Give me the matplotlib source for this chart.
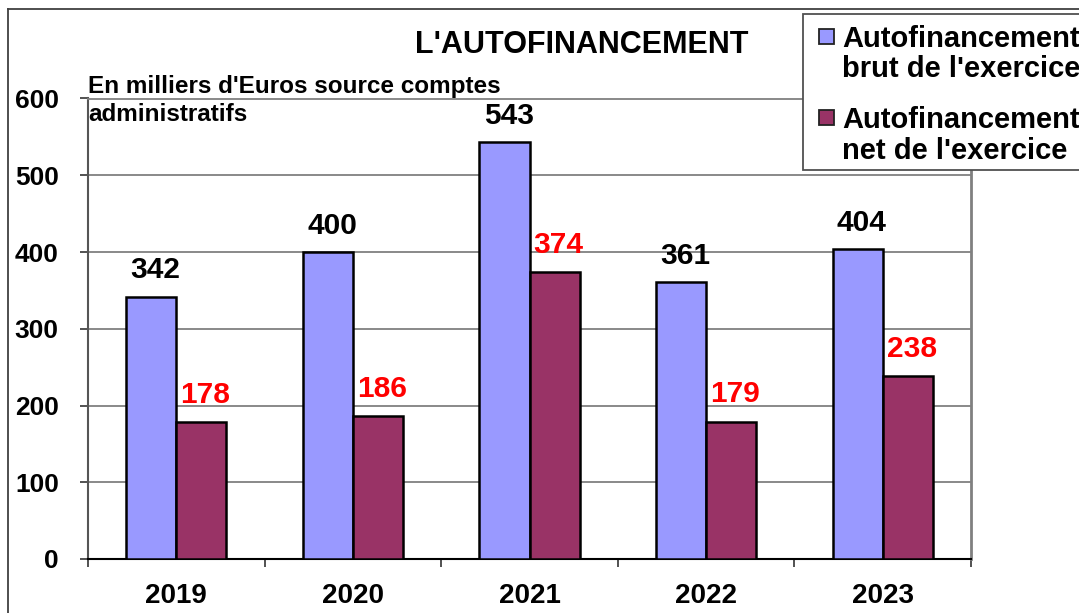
import numpy as np
import matplotlib

matplotlib.use("Agg")
import matplotlib.pyplot as plt
from matplotlib.patches import Rectangle
from matplotlib.lines import Line2D

plt.rcParams["font.family"] = ["Liberation Sans", "DejaVu Sans"]
plt.rcParams["font.weight"] = "bold"

years = ["2019", "2020", "2021", "2022", "2023"]
brut = [342, 400, 543, 361, 404]
net = [178, 186, 374, 179, 238]
series_names = ["Autofinancement\nbrut de l'exercice", "Autofinancement\nnet de l'exercice"]
y_ticks = [0, 100, 200, 300, 400, 500, 600]

BLUE = "#9999FF"
PLUM = "#993366"
GRID = "#808080"

W, H = 1079, 613
fig = plt.figure(figsize=(W / 100, H / 100), dpi=100)
ax = fig.add_axes([88 / W, 1 - 559 / H, (971 - 88) / W, (559 - 98.5) / H])

x = np.arange(len(years))
bw = 0.284
ax.bar(x - bw / 2, brut, bw, color=BLUE, edgecolor="black", linewidth=1.8, zorder=3)
ax.bar(x + bw / 2, net, bw, color=PLUM, edgecolor="black", linewidth=1.8, zorder=3)

for xi, v in zip(x, brut):
    ax.annotate(str(v), (xi - bw / 2, v), xytext=(3, 13), textcoords="offset points",
                ha="center", va="baseline", fontsize=21.5, fontweight="bold", color="black")
for xi, v in zip(x, net):
    ax.annotate(str(v), (xi + bw / 2, v), xytext=(3, 14), textcoords="offset points",
                ha="center", va="baseline", fontsize=21.5, fontweight="bold", color="#FF0000")

ax.set_xlim(-0.5, len(years) - 0.5)
ax.set_ylim(0, 600)
ax.set_yticks(y_ticks)
ax.set_yticklabels([str(t) for t in y_ticks])
ax.yaxis.grid(True, color=GRID, linewidth=1.3, zorder=0)
ax.set_axisbelow(True)

ax.set_xticks(x)
ax.set_xticklabels(years)
ax.set_xticks(np.arange(-0.5, len(years)), minor=True)
ax.tick_params(axis="x", which="major", length=0, pad=17, labelsize=20)
ax.tick_params(axis="x", which="minor", length=6, width=1.2, direction="out", color="#333333")
ax.tick_params(axis="y", length=6, width=1.2, direction="out", pad=15, labelsize=19,
               color="#333333")
for lab in ax.get_xticklabels() + ax.get_yticklabels():
    lab.set_fontweight("bold")

ax.spines["top"].set_color(GRID)
ax.spines["top"].set_linewidth(1.3)
ax.spines["right"].set_color(GRID)
ax.spines["right"].set_linewidth(2)
ax.spines["left"].set_color("#555555")
ax.spines["left"].set_linewidth(1.5)
ax.spines["bottom"].set_color("black")
ax.spines["bottom"].set_linewidth(1.5)

# title and units note
fig.text(582 / W, 1 - 45 / H, "L'AUTOFINANCEMENT", ha="center", va="center",
         fontsize=22, fontweight="bold")
fig.text(88 / W, 1 - 93 / H, "En milliers d'Euros source comptes", ha="left",
         va="baseline", fontsize=17.5, fontweight="bold")
fig.text(88 / W, 1 - 121 / H, "administratifs", ha="left", va="baseline",
         fontsize=17.5, fontweight="bold")

# outer frame (left and top edges only visible)
fig.add_artist(Line2D([7.5 / W, 7.5 / W], [0, 1 - 9 / H], color="#404040", lw=1.3))
fig.add_artist(Line2D([7.5 / W, 1], [1 - 9 / H, 1 - 9 / H], color="#404040", lw=1.3))

# legend box, running off the right edge as in the original
fig.add_artist(Rectangle((803 / W, 1 - 170 / H), 300 / W, 156 / H, transform=fig.transFigure,
                         facecolor="white", edgecolor="#505050", lw=1.3, zorder=5))
colors = [BLUE, PLUM]
marker_tops = [29, 110]
baselines = [(47, 77), (128, 159)]
for name, c, mt, bl in zip(series_names, colors, marker_tops, baselines):
    fig.add_artist(Rectangle((819 / W, 1 - (mt + 15) / H), 15 / W, 15 / H,
                             transform=fig.transFigure, facecolor=c,
                             edgecolor="#222222", lw=1.3, zorder=6))
    for line, b in zip(name.split("\n"), bl):
        fig.text(842 / W, 1 - b / H, line, ha="left", va="baseline", fontsize=21,
                 fontweight="bold", zorder=7)

fig.savefig("out.png", dpi=100)
